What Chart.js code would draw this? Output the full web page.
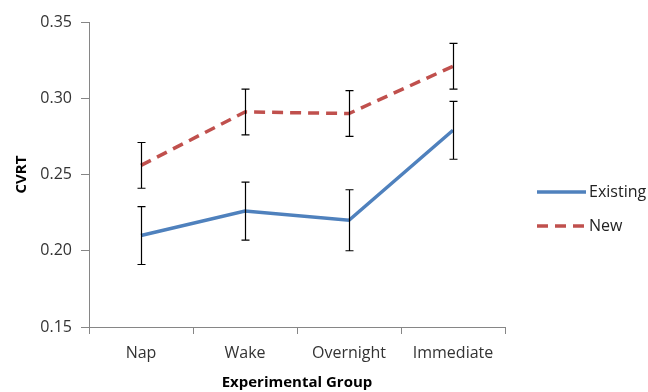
<!DOCTYPE html>
<html><head><meta charset="utf-8">
<script src="https://cdn.jsdelivr.net/npm/chart.js@4/dist/chart.umd.min.js"></script>
<style>html,body{margin:0;padding:0;background:#fff}#wrap{width:648px;height:392px}</style>
</head><body><div id="wrap"><canvas id="c" width="648" height="392"></canvas></div>
<script>
const categories = ["Nap", "Wake", "Overnight", "Immediate"];
const existingValues = [0.210, 0.226, 0.220, 0.279];
const existingErrors = [0.019, 0.019, 0.020, 0.019];
const newValues = [0.256, 0.291, 0.290, 0.321];
const newErrors = [0.015, 0.015, 0.015, 0.015];
const seriesNames = ["Existing", "New"];
const yTicks = [0.15, 0.20, 0.25, 0.30, 0.35];

const FONT = "'Open Sans'";
const errorBars = {
  id: 'errorBars',
  afterDatasetsDraw(chart) {
    const ctx = chart.ctx, y = chart.scales.y, x = chart.scales.x;
    const sets = [[existingValues, existingErrors], [newValues, newErrors]];
    ctx.save();
    ctx.strokeStyle = '#000'; ctx.lineWidth = 1.2;
    sets.forEach(([vals, errs]) => {
      vals.forEach((v, i) => {
        const px = Math.round(x.getPixelForValue(i)) + 0.5;
        const top = y.getPixelForValue(v + errs[i]);
        const bot = y.getPixelForValue(v - errs[i]);
        ctx.beginPath();
        ctx.moveTo(px, top); ctx.lineTo(px, bot);
        ctx.moveTo(px - 4, top); ctx.lineTo(px + 4, top);
        ctx.moveTo(px - 4, bot); ctx.lineTo(px + 4, bot);
        ctx.stroke();
      });
    });
    ctx.restore();
  }
};
const legendPlugin = {
  id: 'customLegend',
  afterDraw(chart) {
    const ctx = chart.ctx;
    ctx.save();
    const items = [
      {name: seriesNames[0], color: '#4F81BD', dash: [], y: 192},
      {name: seriesNames[1], color: '#C0504D', dash: [11, 7], y: 226}
    ];
    items.forEach(it => {
      ctx.strokeStyle = it.color; ctx.lineWidth = 3.5; ctx.setLineDash(it.dash);
      ctx.beginPath(); ctx.moveTo(537, it.y); ctx.lineTo(586, it.y); ctx.stroke();
      ctx.setLineDash([]);
      ctx.fillStyle = '#222'; ctx.font = '16px ' + FONT; ctx.textBaseline = 'middle';
      ctx.fillText(it.name, 589, it.y);
    });
    ctx.restore();
  }
};

new Chart(document.getElementById('c'), {
  type: 'line',
  data: {
    labels: categories,
    datasets: [
      {label: seriesNames[0], data: existingValues, borderColor: '#4F81BD', borderWidth: 3.5, pointRadius: 0, tension: 0, fill: false},
      {label: seriesNames[1], data: newValues, borderColor: '#C0504D', borderWidth: 3.5, borderDash: [11, 7], pointRadius: 0, tension: 0, fill: false}
    ]
  },
  options: {
    responsive: false, animation: false,
    layout: {padding: {top: 22, right: 143, left: 0, bottom: 0}},
    plugins: {legend: {display: false}, tooltip: {enabled: false}},
    scales: {
      x: {
        offset: true,
        grid: {offset: true, drawOnChartArea: false, drawTicks: true, tickLength: 7, color: '#868686'},
        border: {color: '#868686', width: 1},
        ticks: {color: '#333', font: {family: FONT, size: 16}, padding: 10},
        title: {display: true, text: 'Experimental Group', color: '#000', font: {family: FONT, size: 15, weight: 'bold'}, padding: {top: 4, bottom: 0}},
        afterFit: s => { s.height = 65; }
      },
      y: {
        min: 0.15, max: 0.35,
        afterBuildTicks: s => { s.ticks = yTicks.map(v => ({value: v})); },
        grid: {drawOnChartArea: false, drawTicks: true, tickLength: 8, color: '#868686'},
        border: {color: '#868686', width: 1},
        ticks: {color: '#333', font: {family: FONT, size: 16}, padding: 9, callback: v => v.toFixed(2)},
        title: {display: true, text: 'CVRT', color: '#000', font: {family: FONT, size: 15, weight: 'bold'}, padding: {top: 13}},
        afterFit: s => { s.width = 89; }
      }
    }
  },
  plugins: [errorBars, legendPlugin]
});
</script></body></html>
